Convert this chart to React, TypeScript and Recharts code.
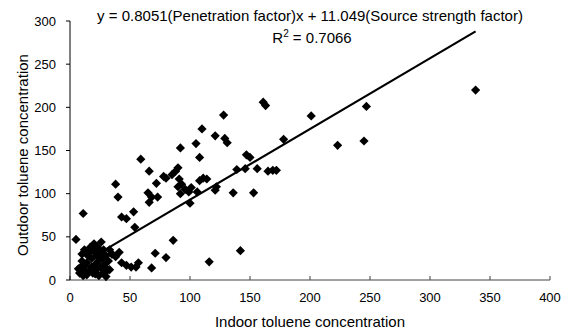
import { ScatterChart, Scatter, XAxis, YAxis } from 'recharts'

// indoor (x) vs outdoor (y) toluene
const indoor = [
  5, 11, 38, 40, 43, 47, 53, 54, 59, 66, 65, 66, 68, 73, 72, 78, 80, 85, 88, 90,
  92, 91, 93, 96, 90, 92, 100, 99, 101, 106, 105, 108, 110, 108, 111, 114, 121, 122,
  121, 128, 129, 131, 136, 139, 146, 147, 150, 153, 156, 161, 163, 165, 169, 172,
  178, 201, 223, 245, 247, 338,
  142, 116, 86, 80, 71, 68, 57, 55, 51, 47, 43, 41, 38, 35, 33, 31,
  7, 8, 9, 10, 10, 11, 12, 12, 13, 14, 14, 15, 16, 16, 17, 18, 18, 19, 20, 20,
  21, 21, 22, 22, 23, 24, 24, 25, 26, 26, 27, 28, 28, 29, 30, 30, 31, 32, 33, 35,
]
const outdoor = [
  47, 77, 111, 96, 73, 71, 79, 61, 140, 126, 101, 90, 96, 96, 112, 120, 118, 122, 126, 130,
  153, 117, 111, 105, 108, 100, 89, 102, 107, 102, 158, 142, 175, 115, 118, 117, 104, 108,
  167, 191, 164, 159, 101, 128, 129, 145, 142, 101, 129, 206, 202, 126, 127, 127,
  163, 190, 156, 161, 201, 220,
  34, 21, 46, 26, 31, 14, 20, 15, 15, 17, 20, 32, 27, 30, 12, 11,
  13, 8, 15, 22, 30, 5, 12, 35, 17, 6, 20, 28, 10, 32, 38, 15, 25, 8, 33, 42,
  18, 7, 12, 28, 38, 22, 5, 32, 15, 44, 25, 9, 35, 18, 4, 28, 12, 22, 35, 30,
]

// fitted line ends, as drawn
const trendIndoor = [28, 338]
const trendOutdoor = [34, 288]

const xTicks = [0, 50, 100, 150, 200, 250, 300, 350, 400]
const yTicks = [0, 50, 100, 150, 200, 250, 300]

const points = indoor.map((x, i) => ({ x, y: outdoor[i] }))
const trend = trendIndoor.map((x, i) => ({ x, y: trendOutdoor[i] }))

const font = "Arial, 'Liberation Sans', sans-serif"

function Diamond(props: any) {
  const { cx, cy } = props
  if (cx == null || cy == null) return null
  const r = 4.6
  return (
    <path
      d={`M${cx},${cy - r}L${cx + r},${cy}L${cx},${cy + r}L${cx - r},${cy}Z`}
      fill="#000"
    />
  )
}

export default function App() {
  return (
    <div style={{ position: 'absolute', left: 0, top: 0, background: '#fff', fontFamily: font }}>
      <ScatterChart
        width={567}
        height={331}
        margin={{ top: 21, right: 17, bottom: 0, left: 0 }}
      >
        <XAxis
          type="number"
          dataKey="x"
          domain={[0, 400]}
          ticks={xTicks}
          height={51}
          stroke="#444"
          tickSize={-4}
          tickMargin={17}
          tick={{ fill: '#000', fontSize: 13, fontFamily: font }}
        />
        <YAxis
          type="number"
          dataKey="y"
          domain={[0, 300]}
          ticks={yTicks}
          width={70}
          stroke="#000"
          tickSize={4}
          tickMargin={10}
          tick={{ fill: '#000', fontSize: 13, fontFamily: font }}
        />
        <Scatter data={points} shape={<Diamond />} isAnimationActive={false} />
        <Scatter
          data={trend}
          line={{ stroke: '#000', strokeWidth: 2.2 }}
          shape={() => null}
          isAnimationActive={false}
        />
        <text x={310} y={327} textAnchor="middle" fontSize={15} fontFamily={font} fill="#000">
          Indoor toluene concentration
        </text>
        <text
          x={22}
          y={155}
          textAnchor="middle"
          dominantBaseline="central"
          transform="rotate(-90 22 155)"
          fontSize={15}
          fontFamily={font}
          fill="#000"
        >
          Outdoor toluene concentration
        </text>
        <text x={310} y={20.5} textAnchor="middle" fontSize={15} fontFamily={font} fill="#000">
          y = 0.8051(Penetration factor)x + 11.049(Source strength factor)
        </text>
        <text x={312} y={42.5} textAnchor="middle" fontSize={15} fontFamily={font} fill="#000">
          R<tspan dy={-6} fontSize={10}>2</tspan>
          <tspan dy={6}> = 0.7066</tspan>
        </text>
      </ScatterChart>
    </div>
  )
}
